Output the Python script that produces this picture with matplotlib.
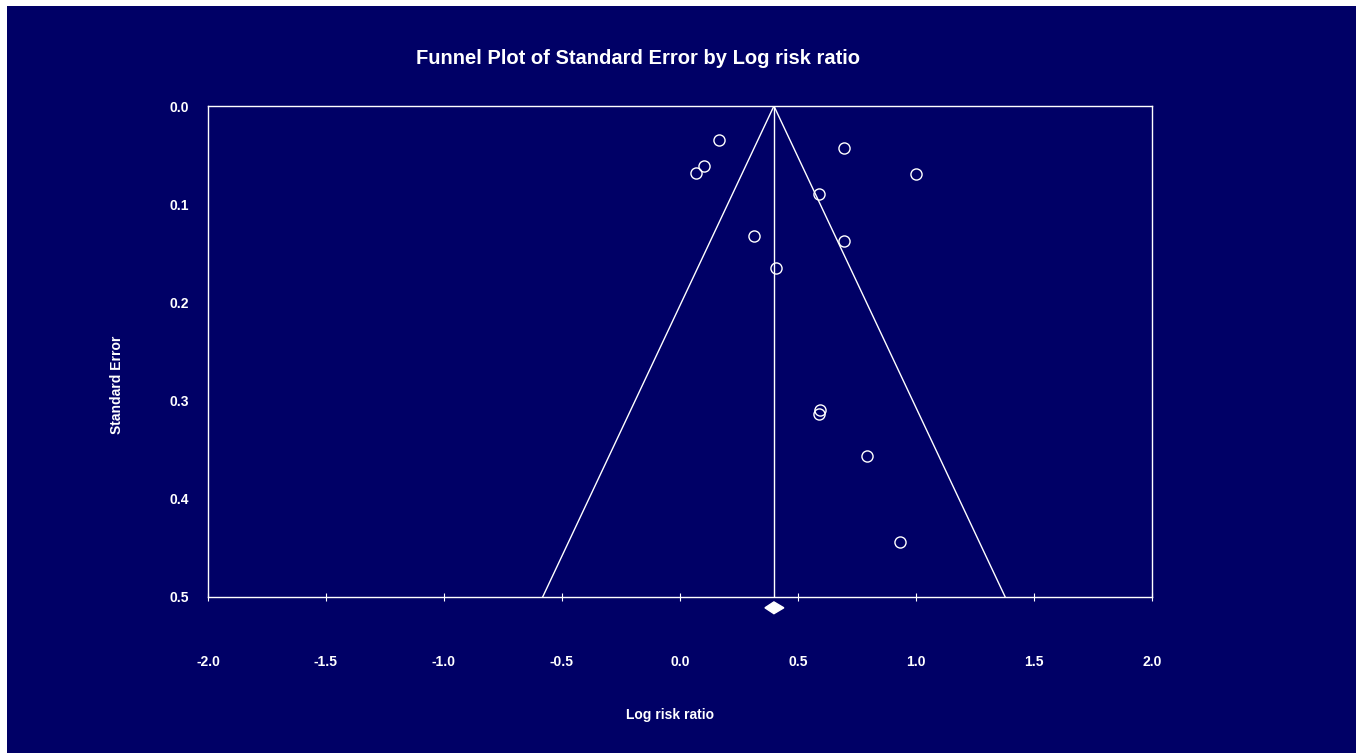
import matplotlib
matplotlib.use("Agg")
import matplotlib.pyplot as plt
from matplotlib.patches import Rectangle
import numpy as np

plt.rcParams['font.family'] = ['Liberation Sans', 'DejaVu Sans']
plt.rcParams['font.weight'] = 'bold'

navy = '#000066'

# study effects (log risk ratio) and standard errors
log_rr = [0.165, 0.102, 0.068, 0.695, 1.000, 0.589, 0.314, 0.695, 0.407,
          0.593, 0.589, 0.792, 0.932]
std_err = [0.035, 0.061, 0.068, 0.043, 0.069, 0.090, 0.132, 0.137, 0.165,
           0.310, 0.314, 0.356, 0.444]

# pooled estimate and its CI (diamond)
pooled = 0.398
pooled_lo = 0.36
pooled_hi = 0.44

x_ticks = [-2.0, -1.5, -1.0, -0.5, 0.0, 0.5, 1.0, 1.5, 2.0]
y_ticks = [0.0, 0.1, 0.2, 0.3, 0.4, 0.5]

fig = plt.figure(figsize=(13.56, 7.53), dpi=100, facecolor='white')
fig.patches.append(Rectangle((7 / 1356, 0), 1, 1 - 6 / 753, transform=fig.transFigure,
                             facecolor=navy, edgecolor='none', zorder=-1))

ax = fig.add_axes([208 / 1356, 1 - 597 / 753, 944 / 1356, 491 / 753])
ax.set_facecolor(navy)

# funnel
se_max = 0.5
ax.plot([pooled - 1.96 * se_max, pooled, pooled + 1.96 * se_max], [se_max, 0, se_max],
        color='white', lw=1)
ax.plot([pooled, pooled], [0, se_max], color='white', lw=1)

ax.plot(log_rr, std_err, 'o', mfc='none', mec='white', ms=8, mew=1)

# diamond below the axis
dy = 0.006
yc = 0.511
ax.fill([pooled_lo, pooled, pooled_hi, pooled], [yc, yc - dy, yc, yc + dy],
        color='white', clip_on=False, zorder=5)

ax.set_xlim(-2, 2)
ax.set_ylim(0.5, 0.0)
ax.set_xticks(x_ticks)
ax.set_xticklabels([f'{t:.1f}' for t in x_ticks])
ax.set_yticks(y_ticks)
ax.set_yticklabels([f'{t:.1f}' for t in y_ticks])

for s in ax.spines.values():
    s.set_color('white')
    s.set_linewidth(1)

ax.tick_params(axis='x', direction='inout', length=6, color='white', labelcolor='white',
               labelsize=10, pad=39)
ax.tick_params(axis='y', length=0, labelcolor='white', labelsize=10, pad=14)
for lbl in ax.get_xticklabels() + ax.get_yticklabels():
    lbl.set_fontweight('bold')

fig.text(638 / 1356, 1 - 58 / 753, 'Funnel Plot of Standard Error by Log risk ratio',
         color='white', fontsize=14.5, fontweight='bold', ha='center', va='center')
fig.text(670 / 1356, 1 - 715 / 753, 'Log risk ratio', color='white', fontsize=10,
         fontweight='bold', ha='center', va='center')
fig.text(117 / 1356, 1 - 385 / 753, 'Standard Error', color='white', fontsize=10,
         fontweight='bold', ha='center', va='center', rotation=90)

fig.savefig('out.png', dpi=100, facecolor=fig.get_facecolor())
